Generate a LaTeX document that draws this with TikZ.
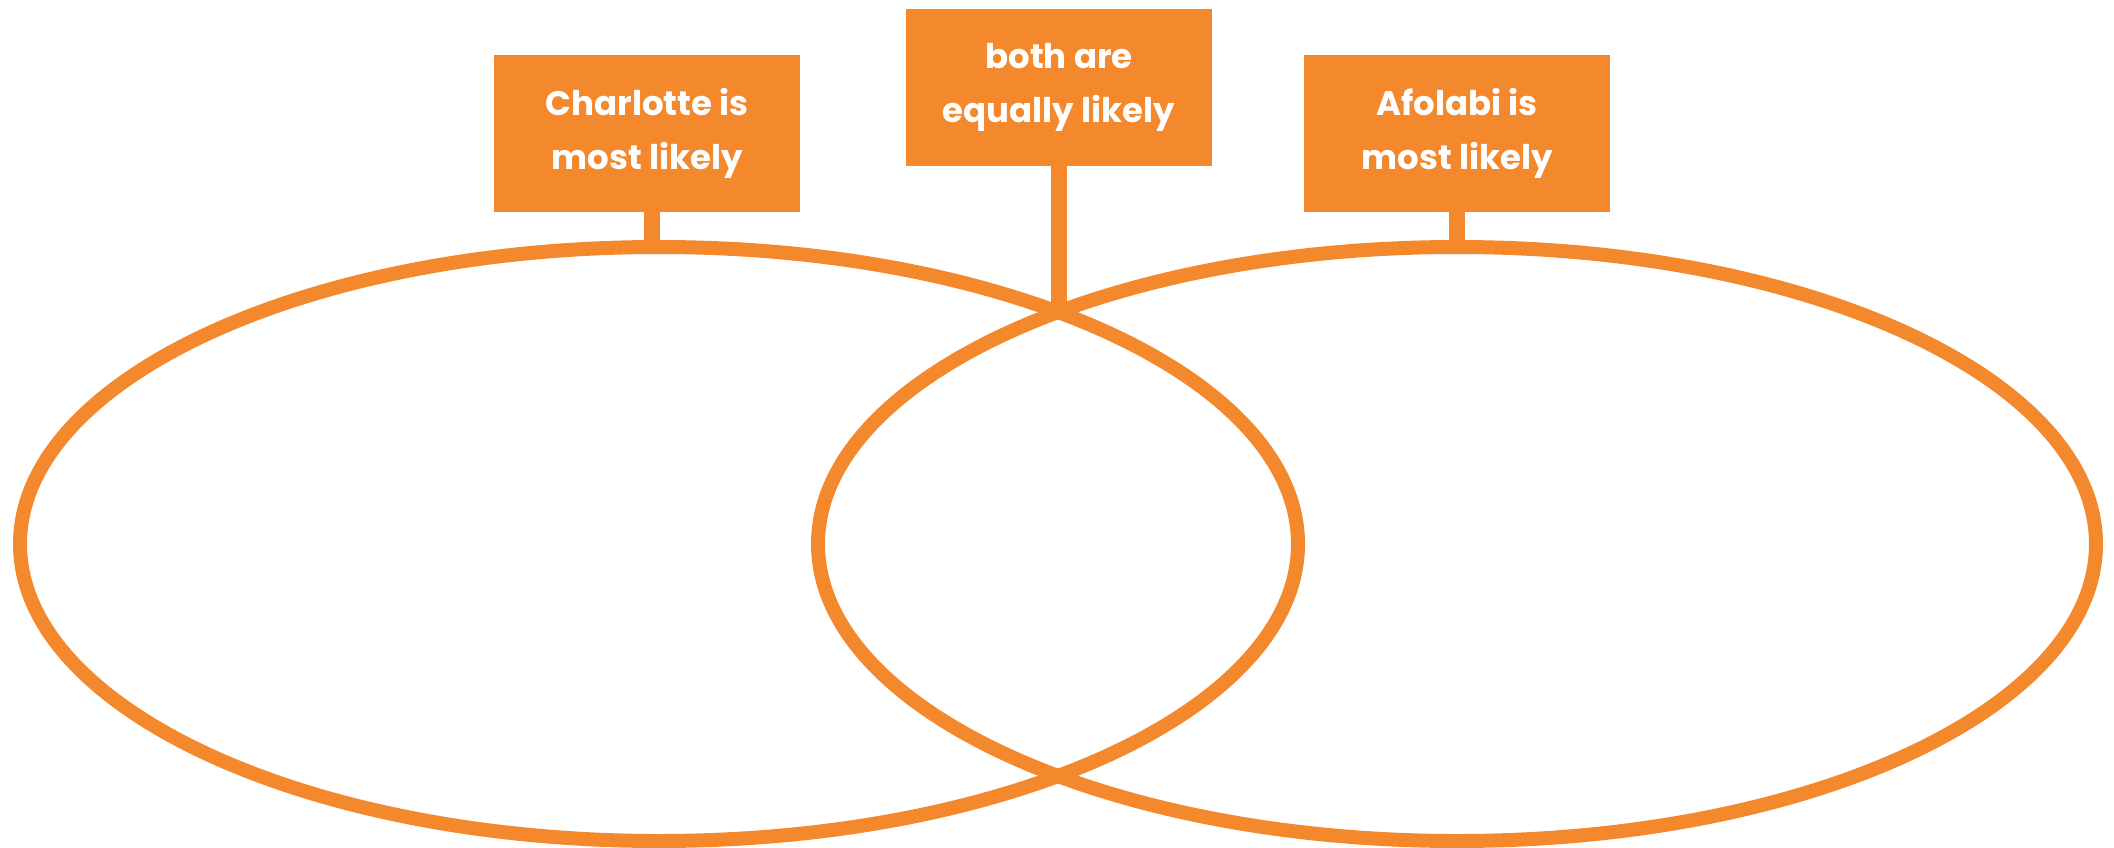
\documentclass[tikz,border=0pt]{standalone}
\usepackage{fontspec}
\setmainfont{Poppins}
\usepackage{tikz}
\usetikzlibrary{positioning,shapes.geometric}
\definecolor{SetOrange}{HTML}{F4882D}
\tikzset{
  tag/.style={fill=SetOrange, text=white, minimum width=306pt, minimum height=157pt,
              align=center, inner sep=0pt, font=\bfseries\fontsize{34}{54}\selectfont},
  set/.style={ellipse, draw=SetOrange, line width=14pt, minimum width=1278pt,
              minimum height=594pt, inner sep=0pt},
  stem/.style={draw=SetOrange, line width=16pt},
}
\begin{document}
\begin{tikzpicture}[x=1pt,y=-1pt]
    \useasboundingbox (0,0) rectangle (2114,848);
    \node[set] (charlotte) at (659,544) {};
    \node[set] (afolabi) at (1457,544) {};
    \coordinate (meet) at (1058,310);
    \node[tag] (cbox) at (647,133.5) {Charlotte is\\most likely};
    \node[tag] (bbox) at (1059,87.5) {both are\\equally likely};
    \node[tag] (abox) at (1457,133.5) {Afolabi is\\most likely};
    \draw[stem] ([xshift=5pt]cbox.south) -- ([xshift=5pt]cbox.south |- charlotte.north);
    \draw[stem] (bbox.south) -- (bbox.south |- meet);
    \draw[stem] (abox.south) -- (abox.south |- afolabi.north);
  \end{tikzpicture}
\end{document}
